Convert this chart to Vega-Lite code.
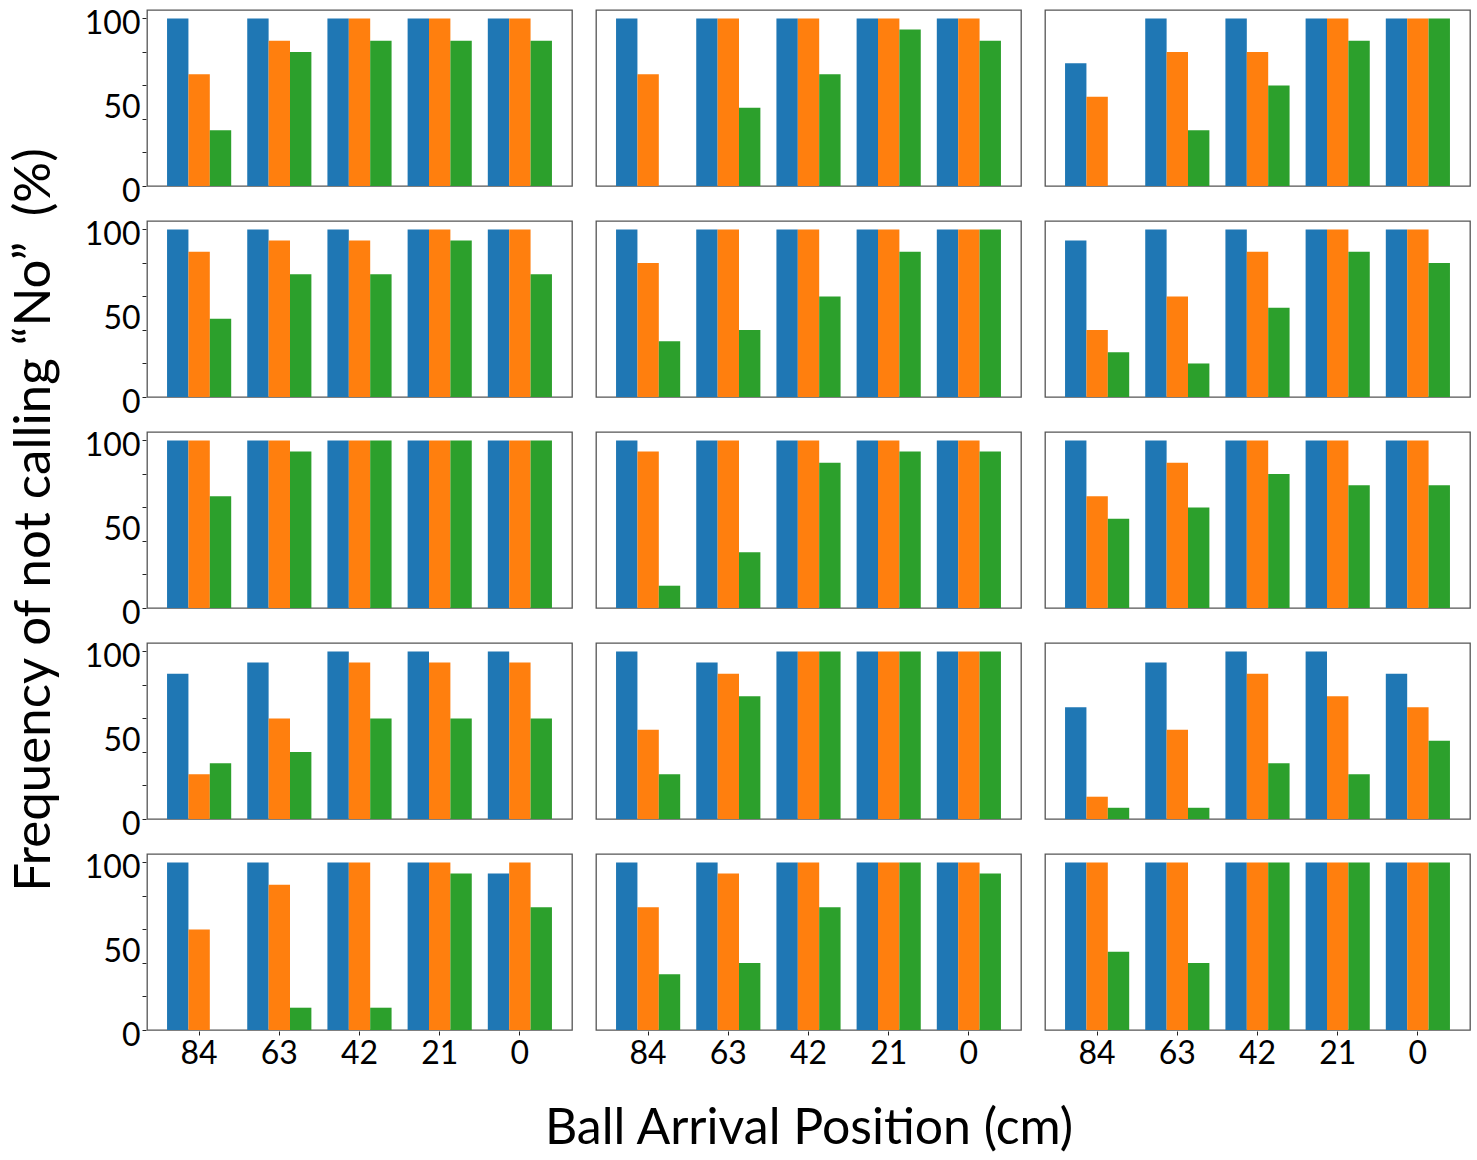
{
  "$schema": "https://vega.github.io/schema/vega-lite/v6.json",
  "description": "Frequency of not calling No by ball arrival position, 15 panels",
  "padding": {"top": 7, "left": 8, "right": 8, "bottom": 10},
  "background": "white",
  "data": {
    "values": [
      {"r": 1, "c": 1, "p": "84", "s": "A", "v": 100}, {"r": 1, "c": 1, "p": "84", "s": "B", "v": 66.7}, {"r": 1, "c": 1, "p": "84", "s": "C", "v": 33.3},
      {"r": 1, "c": 1, "p": "63", "s": "A", "v": 100}, {"r": 1, "c": 1, "p": "63", "s": "B", "v": 86.7}, {"r": 1, "c": 1, "p": "63", "s": "C", "v": 80},
      {"r": 1, "c": 1, "p": "42", "s": "A", "v": 100}, {"r": 1, "c": 1, "p": "42", "s": "B", "v": 100}, {"r": 1, "c": 1, "p": "42", "s": "C", "v": 86.7},
      {"r": 1, "c": 1, "p": "21", "s": "A", "v": 100}, {"r": 1, "c": 1, "p": "21", "s": "B", "v": 100}, {"r": 1, "c": 1, "p": "21", "s": "C", "v": 86.7},
      {"r": 1, "c": 1, "p": "0", "s": "A", "v": 100}, {"r": 1, "c": 1, "p": "0", "s": "B", "v": 100}, {"r": 1, "c": 1, "p": "0", "s": "C", "v": 86.7},

      {"r": 1, "c": 2, "p": "84", "s": "A", "v": 100}, {"r": 1, "c": 2, "p": "84", "s": "B", "v": 66.7}, {"r": 1, "c": 2, "p": "84", "s": "C", "v": 0},
      {"r": 1, "c": 2, "p": "63", "s": "A", "v": 100}, {"r": 1, "c": 2, "p": "63", "s": "B", "v": 100}, {"r": 1, "c": 2, "p": "63", "s": "C", "v": 46.7},
      {"r": 1, "c": 2, "p": "42", "s": "A", "v": 100}, {"r": 1, "c": 2, "p": "42", "s": "B", "v": 100}, {"r": 1, "c": 2, "p": "42", "s": "C", "v": 66.7},
      {"r": 1, "c": 2, "p": "21", "s": "A", "v": 100}, {"r": 1, "c": 2, "p": "21", "s": "B", "v": 100}, {"r": 1, "c": 2, "p": "21", "s": "C", "v": 93.3},
      {"r": 1, "c": 2, "p": "0", "s": "A", "v": 100}, {"r": 1, "c": 2, "p": "0", "s": "B", "v": 100}, {"r": 1, "c": 2, "p": "0", "s": "C", "v": 86.7},

      {"r": 1, "c": 3, "p": "84", "s": "A", "v": 73.3}, {"r": 1, "c": 3, "p": "84", "s": "B", "v": 53.3}, {"r": 1, "c": 3, "p": "84", "s": "C", "v": 0},
      {"r": 1, "c": 3, "p": "63", "s": "A", "v": 100}, {"r": 1, "c": 3, "p": "63", "s": "B", "v": 80}, {"r": 1, "c": 3, "p": "63", "s": "C", "v": 33.3},
      {"r": 1, "c": 3, "p": "42", "s": "A", "v": 100}, {"r": 1, "c": 3, "p": "42", "s": "B", "v": 80}, {"r": 1, "c": 3, "p": "42", "s": "C", "v": 60},
      {"r": 1, "c": 3, "p": "21", "s": "A", "v": 100}, {"r": 1, "c": 3, "p": "21", "s": "B", "v": 100}, {"r": 1, "c": 3, "p": "21", "s": "C", "v": 86.7},
      {"r": 1, "c": 3, "p": "0", "s": "A", "v": 100}, {"r": 1, "c": 3, "p": "0", "s": "B", "v": 100}, {"r": 1, "c": 3, "p": "0", "s": "C", "v": 100},

      {"r": 2, "c": 1, "p": "84", "s": "A", "v": 100}, {"r": 2, "c": 1, "p": "84", "s": "B", "v": 86.7}, {"r": 2, "c": 1, "p": "84", "s": "C", "v": 46.7},
      {"r": 2, "c": 1, "p": "63", "s": "A", "v": 100}, {"r": 2, "c": 1, "p": "63", "s": "B", "v": 93.3}, {"r": 2, "c": 1, "p": "63", "s": "C", "v": 73.3},
      {"r": 2, "c": 1, "p": "42", "s": "A", "v": 100}, {"r": 2, "c": 1, "p": "42", "s": "B", "v": 93.3}, {"r": 2, "c": 1, "p": "42", "s": "C", "v": 73.3},
      {"r": 2, "c": 1, "p": "21", "s": "A", "v": 100}, {"r": 2, "c": 1, "p": "21", "s": "B", "v": 100}, {"r": 2, "c": 1, "p": "21", "s": "C", "v": 93.3},
      {"r": 2, "c": 1, "p": "0", "s": "A", "v": 100}, {"r": 2, "c": 1, "p": "0", "s": "B", "v": 100}, {"r": 2, "c": 1, "p": "0", "s": "C", "v": 73.3},

      {"r": 2, "c": 2, "p": "84", "s": "A", "v": 100}, {"r": 2, "c": 2, "p": "84", "s": "B", "v": 80}, {"r": 2, "c": 2, "p": "84", "s": "C", "v": 33.3},
      {"r": 2, "c": 2, "p": "63", "s": "A", "v": 100}, {"r": 2, "c": 2, "p": "63", "s": "B", "v": 100}, {"r": 2, "c": 2, "p": "63", "s": "C", "v": 40},
      {"r": 2, "c": 2, "p": "42", "s": "A", "v": 100}, {"r": 2, "c": 2, "p": "42", "s": "B", "v": 100}, {"r": 2, "c": 2, "p": "42", "s": "C", "v": 60},
      {"r": 2, "c": 2, "p": "21", "s": "A", "v": 100}, {"r": 2, "c": 2, "p": "21", "s": "B", "v": 100}, {"r": 2, "c": 2, "p": "21", "s": "C", "v": 86.7},
      {"r": 2, "c": 2, "p": "0", "s": "A", "v": 100}, {"r": 2, "c": 2, "p": "0", "s": "B", "v": 100}, {"r": 2, "c": 2, "p": "0", "s": "C", "v": 100},

      {"r": 2, "c": 3, "p": "84", "s": "A", "v": 93.3}, {"r": 2, "c": 3, "p": "84", "s": "B", "v": 40}, {"r": 2, "c": 3, "p": "84", "s": "C", "v": 26.7},
      {"r": 2, "c": 3, "p": "63", "s": "A", "v": 100}, {"r": 2, "c": 3, "p": "63", "s": "B", "v": 60}, {"r": 2, "c": 3, "p": "63", "s": "C", "v": 20},
      {"r": 2, "c": 3, "p": "42", "s": "A", "v": 100}, {"r": 2, "c": 3, "p": "42", "s": "B", "v": 86.7}, {"r": 2, "c": 3, "p": "42", "s": "C", "v": 53.3},
      {"r": 2, "c": 3, "p": "21", "s": "A", "v": 100}, {"r": 2, "c": 3, "p": "21", "s": "B", "v": 100}, {"r": 2, "c": 3, "p": "21", "s": "C", "v": 86.7},
      {"r": 2, "c": 3, "p": "0", "s": "A", "v": 100}, {"r": 2, "c": 3, "p": "0", "s": "B", "v": 100}, {"r": 2, "c": 3, "p": "0", "s": "C", "v": 80},

      {"r": 3, "c": 1, "p": "84", "s": "A", "v": 100}, {"r": 3, "c": 1, "p": "84", "s": "B", "v": 100}, {"r": 3, "c": 1, "p": "84", "s": "C", "v": 66.7},
      {"r": 3, "c": 1, "p": "63", "s": "A", "v": 100}, {"r": 3, "c": 1, "p": "63", "s": "B", "v": 100}, {"r": 3, "c": 1, "p": "63", "s": "C", "v": 93.3},
      {"r": 3, "c": 1, "p": "42", "s": "A", "v": 100}, {"r": 3, "c": 1, "p": "42", "s": "B", "v": 100}, {"r": 3, "c": 1, "p": "42", "s": "C", "v": 100},
      {"r": 3, "c": 1, "p": "21", "s": "A", "v": 100}, {"r": 3, "c": 1, "p": "21", "s": "B", "v": 100}, {"r": 3, "c": 1, "p": "21", "s": "C", "v": 100},
      {"r": 3, "c": 1, "p": "0", "s": "A", "v": 100}, {"r": 3, "c": 1, "p": "0", "s": "B", "v": 100}, {"r": 3, "c": 1, "p": "0", "s": "C", "v": 100},

      {"r": 3, "c": 2, "p": "84", "s": "A", "v": 100}, {"r": 3, "c": 2, "p": "84", "s": "B", "v": 93.3}, {"r": 3, "c": 2, "p": "84", "s": "C", "v": 13.3},
      {"r": 3, "c": 2, "p": "63", "s": "A", "v": 100}, {"r": 3, "c": 2, "p": "63", "s": "B", "v": 100}, {"r": 3, "c": 2, "p": "63", "s": "C", "v": 33.3},
      {"r": 3, "c": 2, "p": "42", "s": "A", "v": 100}, {"r": 3, "c": 2, "p": "42", "s": "B", "v": 100}, {"r": 3, "c": 2, "p": "42", "s": "C", "v": 86.7},
      {"r": 3, "c": 2, "p": "21", "s": "A", "v": 100}, {"r": 3, "c": 2, "p": "21", "s": "B", "v": 100}, {"r": 3, "c": 2, "p": "21", "s": "C", "v": 93.3},
      {"r": 3, "c": 2, "p": "0", "s": "A", "v": 100}, {"r": 3, "c": 2, "p": "0", "s": "B", "v": 100}, {"r": 3, "c": 2, "p": "0", "s": "C", "v": 93.3},

      {"r": 3, "c": 3, "p": "84", "s": "A", "v": 100}, {"r": 3, "c": 3, "p": "84", "s": "B", "v": 66.7}, {"r": 3, "c": 3, "p": "84", "s": "C", "v": 53.3},
      {"r": 3, "c": 3, "p": "63", "s": "A", "v": 100}, {"r": 3, "c": 3, "p": "63", "s": "B", "v": 86.7}, {"r": 3, "c": 3, "p": "63", "s": "C", "v": 60},
      {"r": 3, "c": 3, "p": "42", "s": "A", "v": 100}, {"r": 3, "c": 3, "p": "42", "s": "B", "v": 100}, {"r": 3, "c": 3, "p": "42", "s": "C", "v": 80},
      {"r": 3, "c": 3, "p": "21", "s": "A", "v": 100}, {"r": 3, "c": 3, "p": "21", "s": "B", "v": 100}, {"r": 3, "c": 3, "p": "21", "s": "C", "v": 73.3},
      {"r": 3, "c": 3, "p": "0", "s": "A", "v": 100}, {"r": 3, "c": 3, "p": "0", "s": "B", "v": 100}, {"r": 3, "c": 3, "p": "0", "s": "C", "v": 73.3},

      {"r": 4, "c": 1, "p": "84", "s": "A", "v": 86.7}, {"r": 4, "c": 1, "p": "84", "s": "B", "v": 26.7}, {"r": 4, "c": 1, "p": "84", "s": "C", "v": 33.3},
      {"r": 4, "c": 1, "p": "63", "s": "A", "v": 93.3}, {"r": 4, "c": 1, "p": "63", "s": "B", "v": 60}, {"r": 4, "c": 1, "p": "63", "s": "C", "v": 40},
      {"r": 4, "c": 1, "p": "42", "s": "A", "v": 100}, {"r": 4, "c": 1, "p": "42", "s": "B", "v": 93.3}, {"r": 4, "c": 1, "p": "42", "s": "C", "v": 60},
      {"r": 4, "c": 1, "p": "21", "s": "A", "v": 100}, {"r": 4, "c": 1, "p": "21", "s": "B", "v": 93.3}, {"r": 4, "c": 1, "p": "21", "s": "C", "v": 60},
      {"r": 4, "c": 1, "p": "0", "s": "A", "v": 100}, {"r": 4, "c": 1, "p": "0", "s": "B", "v": 93.3}, {"r": 4, "c": 1, "p": "0", "s": "C", "v": 60},

      {"r": 4, "c": 2, "p": "84", "s": "A", "v": 100}, {"r": 4, "c": 2, "p": "84", "s": "B", "v": 53.3}, {"r": 4, "c": 2, "p": "84", "s": "C", "v": 26.7},
      {"r": 4, "c": 2, "p": "63", "s": "A", "v": 93.3}, {"r": 4, "c": 2, "p": "63", "s": "B", "v": 86.7}, {"r": 4, "c": 2, "p": "63", "s": "C", "v": 73.3},
      {"r": 4, "c": 2, "p": "42", "s": "A", "v": 100}, {"r": 4, "c": 2, "p": "42", "s": "B", "v": 100}, {"r": 4, "c": 2, "p": "42", "s": "C", "v": 100},
      {"r": 4, "c": 2, "p": "21", "s": "A", "v": 100}, {"r": 4, "c": 2, "p": "21", "s": "B", "v": 100}, {"r": 4, "c": 2, "p": "21", "s": "C", "v": 100},
      {"r": 4, "c": 2, "p": "0", "s": "A", "v": 100}, {"r": 4, "c": 2, "p": "0", "s": "B", "v": 100}, {"r": 4, "c": 2, "p": "0", "s": "C", "v": 100},

      {"r": 4, "c": 3, "p": "84", "s": "A", "v": 66.7}, {"r": 4, "c": 3, "p": "84", "s": "B", "v": 13.3}, {"r": 4, "c": 3, "p": "84", "s": "C", "v": 6.7},
      {"r": 4, "c": 3, "p": "63", "s": "A", "v": 93.3}, {"r": 4, "c": 3, "p": "63", "s": "B", "v": 53.3}, {"r": 4, "c": 3, "p": "63", "s": "C", "v": 6.7},
      {"r": 4, "c": 3, "p": "42", "s": "A", "v": 100}, {"r": 4, "c": 3, "p": "42", "s": "B", "v": 86.7}, {"r": 4, "c": 3, "p": "42", "s": "C", "v": 33.3},
      {"r": 4, "c": 3, "p": "21", "s": "A", "v": 100}, {"r": 4, "c": 3, "p": "21", "s": "B", "v": 73.3}, {"r": 4, "c": 3, "p": "21", "s": "C", "v": 26.7},
      {"r": 4, "c": 3, "p": "0", "s": "A", "v": 86.7}, {"r": 4, "c": 3, "p": "0", "s": "B", "v": 66.7}, {"r": 4, "c": 3, "p": "0", "s": "C", "v": 46.7},

      {"r": 5, "c": 1, "p": "84", "s": "A", "v": 100}, {"r": 5, "c": 1, "p": "84", "s": "B", "v": 60}, {"r": 5, "c": 1, "p": "84", "s": "C", "v": 0},
      {"r": 5, "c": 1, "p": "63", "s": "A", "v": 100}, {"r": 5, "c": 1, "p": "63", "s": "B", "v": 86.7}, {"r": 5, "c": 1, "p": "63", "s": "C", "v": 13.3},
      {"r": 5, "c": 1, "p": "42", "s": "A", "v": 100}, {"r": 5, "c": 1, "p": "42", "s": "B", "v": 100}, {"r": 5, "c": 1, "p": "42", "s": "C", "v": 13.3},
      {"r": 5, "c": 1, "p": "21", "s": "A", "v": 100}, {"r": 5, "c": 1, "p": "21", "s": "B", "v": 100}, {"r": 5, "c": 1, "p": "21", "s": "C", "v": 93.3},
      {"r": 5, "c": 1, "p": "0", "s": "A", "v": 93.3}, {"r": 5, "c": 1, "p": "0", "s": "B", "v": 100}, {"r": 5, "c": 1, "p": "0", "s": "C", "v": 73.3},

      {"r": 5, "c": 2, "p": "84", "s": "A", "v": 100}, {"r": 5, "c": 2, "p": "84", "s": "B", "v": 73.3}, {"r": 5, "c": 2, "p": "84", "s": "C", "v": 33.3},
      {"r": 5, "c": 2, "p": "63", "s": "A", "v": 100}, {"r": 5, "c": 2, "p": "63", "s": "B", "v": 93.3}, {"r": 5, "c": 2, "p": "63", "s": "C", "v": 40},
      {"r": 5, "c": 2, "p": "42", "s": "A", "v": 100}, {"r": 5, "c": 2, "p": "42", "s": "B", "v": 100}, {"r": 5, "c": 2, "p": "42", "s": "C", "v": 73.3},
      {"r": 5, "c": 2, "p": "21", "s": "A", "v": 100}, {"r": 5, "c": 2, "p": "21", "s": "B", "v": 100}, {"r": 5, "c": 2, "p": "21", "s": "C", "v": 100},
      {"r": 5, "c": 2, "p": "0", "s": "A", "v": 100}, {"r": 5, "c": 2, "p": "0", "s": "B", "v": 100}, {"r": 5, "c": 2, "p": "0", "s": "C", "v": 93.3},

      {"r": 5, "c": 3, "p": "84", "s": "A", "v": 100}, {"r": 5, "c": 3, "p": "84", "s": "B", "v": 100}, {"r": 5, "c": 3, "p": "84", "s": "C", "v": 46.7},
      {"r": 5, "c": 3, "p": "63", "s": "A", "v": 100}, {"r": 5, "c": 3, "p": "63", "s": "B", "v": 100}, {"r": 5, "c": 3, "p": "63", "s": "C", "v": 40},
      {"r": 5, "c": 3, "p": "42", "s": "A", "v": 100}, {"r": 5, "c": 3, "p": "42", "s": "B", "v": 100}, {"r": 5, "c": 3, "p": "42", "s": "C", "v": 100},
      {"r": 5, "c": 3, "p": "21", "s": "A", "v": 100}, {"r": 5, "c": 3, "p": "21", "s": "B", "v": 100}, {"r": 5, "c": 3, "p": "21", "s": "C", "v": 100},
      {"r": 5, "c": 3, "p": "0", "s": "A", "v": 100}, {"r": 5, "c": 3, "p": "0", "s": "B", "v": 100}, {"r": 5, "c": 3, "p": "0", "s": "C", "v": 100}
    ]
  },
  "facet": {
    "row": {
      "field": "r",
      "type": "ordinal",
      "title": "Frequency of not calling \u201cNo\u201d\u00a0 (%)",
      "header": {"labels": false, "titleFontSize": 51, "titleFont": "Lato", "titleFontWeight": "normal", "titleColor": "#000", "titlePadding": 13}
    },
    "column": {
      "field": "c",
      "type": "ordinal",
      "title": "Ball Arrival Position (cm)",
      "header": {"labels": false, "titleOrient": "bottom", "titleFontSize": 50, "titleFont": "Lato", "titleFontWeight": "normal", "titleColor": "#000", "titlePadding": 25}
    }
  },
  "spacing": {"row": 33, "column": 22},
  "spec": {
    "width": 425,
    "height": 176,
    "encoding": {
      "x": {
        "field": "p",
        "type": "ordinal",
        "sort": ["84", "63", "42", "21", "0"],
        "scale": {"paddingInner": 0.2, "paddingOuter": 0.25},
        "axis": {"title": null, "labelAngle": 0, "tickSize": 4, "labelPadding": 3}
      },
      "xOffset": {"field": "s", "type": "nominal", "sort": ["A", "B", "C"]},
      "color": {
        "field": "s",
        "type": "nominal",
        "scale": {"domain": ["A", "B", "C"], "range": ["#1f77b4", "#ff7f0e", "#2ca02c"]},
        "legend": null
      }
    },
    "layer": [
      {
        "mark": {"type": "bar"},
        "encoding": {
          "y": {
            "field": "v",
            "type": "quantitative",
            "scale": {"domain": [0, 105], "nice": false},
            "axis": {"values": [0, 20, 40, 60, 80, 100], "labels": false, "tickSize": 4, "title": null}
          }
        }
      },
      {
        "mark": {"type": "bar", "opacity": 0},
        "encoding": {
          "y": {
            "field": "v",
            "type": "quantitative",
            "scale": {"domain": [0, 105], "nice": false},
            "axis": {"orient": "left", "values": [0, 50, 100], "ticks": false, "labelPadding": 6, "labelOffset": 5, "title": null}
          }
        }
      }
    ],
    "resolve": {"axis": {"y": "independent"}}
  },
  "config": {
    "font": "Lato",
    "view": {"stroke": "#555555", "strokeWidth": 1.3},
    "axis": {
      "grid": false,
      "domain": false,
      "tickColor": "#222",
      "tickWidth": 1,
      "labelFontSize": 32,
      "labelColor": "#000",
      "labelFont": "Lato"
    }
  }
}
